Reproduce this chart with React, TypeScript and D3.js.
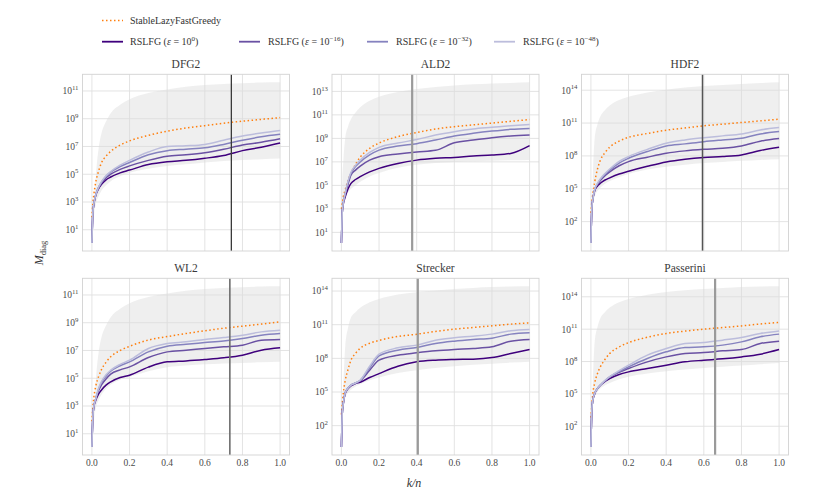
import React from "react";
import * as d3 from "d3";

// ---------- data (log10 of M_diag) ----------
const X = [0, 0.005, 0.01, 0.02, 0.035, 0.05, 0.075, 0.1, 0.15, 0.2, 0.3, 0.4, 0.5, 0.6, 0.7, 0.8, 0.9, 1.0];

const TITLES = ["DFG2", "ALD2", "HDF2", "WL2", "Strecker", "Passerini"];
const VLINE_X = [0.741, 0.376, 0.593, 0.733, 0.406, 0.66];
const VLINE_COLOR = ["#3a3a3a", "#9a9a9a", "#555555", "#6e6e6e", "#9a9a9a", "#9a9a9a"];
const VLINE_W = [1.3, 2.2, 1.5, 1.6, 2.2, 2.2];
const TICKS_ODD = [1, 3, 5, 7, 9, 11, 13];
const TICKS_THREE = [2, 5, 8, 11, 14];
const X_TICKS = [0, 0.2, 0.4, 0.6, 0.8, 1.0];

const LEGEND_EPS = ["0", "\u221216", "\u221232", "\u221248"];
const PURPLES = ["#3f007d", "#6a51a3", "#8582bf", "#bcbddc"];
const ORANGE = "#ff7f0e";

// DFG2
const DFG2_SLFG = [1.9, 2.9, 3.5, 4.4, 5.2, 5.8, 6.3, 6.65, 7.1, 7.4, 7.8, 8.1, 8.33, 8.5, 8.68, 8.82, 8.95, 9.08];
const DFG2_E0 = [0.05, 2.2, 2.8, 3.45, 3.95, 4.25, 4.6, 4.8, 5.1, 5.3, 5.7, 5.9, 6.0, 6.15, 6.35, 6.7, 6.95, 7.25];
const DFG2_E16 = [0.05, 2.2, 2.8, 3.5, 4.0, 4.35, 4.75, 5.0, 5.35, 5.6, 6.0, 6.3, 6.4, 6.55, 6.8, 7.1, 7.3, 7.55];
const DFG2_E32 = [0.05, 2.2, 2.85, 3.5, 4.05, 4.4, 4.85, 5.15, 5.55, 5.85, 6.4, 6.7, 6.8, 6.9, 7.15, 7.45, 7.7, 7.88];
const DFG2_E48 = [0.05, 2.2, 2.85, 3.5, 4.05, 4.45, 4.9, 5.2, 5.65, 6.0, 6.6, 7.0, 7.05, 7.15, 7.45, 7.75, 7.97, 8.15];
const DFG2_UP = [0.05, 0.8, 1.8, 4.6, 6.8, 7.9, 8.8, 9.4, 10.0, 10.4, 10.85, 11.1, 11.3, 11.42, 11.5, 11.55, 11.6, 11.62];
const DFG2_LO = [0.05, 0.8, 1.8, 2.8, 3.4, 3.8, 4.2, 4.5, 4.85, 5.1, 5.4, 5.6, 5.72, 5.85, 5.95, 6.02, 6.08, 6.13];

// ALD2
const ALD2_SLFG = [3.0, 3.5, 4.0, 4.6, 5.4, 6.0, 6.8, 7.4, 8.15, 8.6, 9.15, 9.5, 9.8, 10.0, 10.15, 10.3, 10.45, 10.6];
const ALD2_E0 = [0.1, 2.8, 3.4, 4.0, 4.7, 5.15, 5.5, 5.74, 6.15, 6.45, 6.87, 7.15, 7.3, 7.38, 7.5, 7.58, 7.72, 8.38];
const ALD2_E16 = [0.1, 2.8, 3.5, 4.2, 5.1, 5.85, 6.3, 6.64, 7.15, 7.44, 7.67, 7.85, 7.99, 8.63, 8.86, 9.06, 9.2, 9.28];
const ALD2_E32 = [0.1, 2.8, 3.5, 4.3, 5.3, 6.0, 6.6, 7.0, 7.6, 8.0, 8.35, 8.55, 8.86, 9.2, 9.43, 9.62, 9.77, 9.85];
const ALD2_E48 = [0.1, 2.8, 3.5, 4.3, 5.35, 6.1, 6.7, 7.15, 7.8, 8.23, 8.6, 8.9, 9.28, 9.57, 9.8, 9.94, 10.08, 10.19];
const ALD2_UP = [0.1, 5.5, 7.0, 9.0, 10.0, 10.6, 11.2, 11.65, 12.2, 12.55, 12.95, 13.2, 13.37, 13.5, 13.6, 13.67, 13.72, 13.77];
const ALD2_LO = [0.1, 2.5, 3.2, 4.0, 4.4, 4.7, 5.0, 5.3, 5.75, 6.05, 6.5, 6.75, 6.9, 7.0, 7.05, 7.1, 7.13, 7.16];

// HDF2
const HDF2_SLFG = [2.8, 3.8, 4.5, 5.6, 6.8, 7.6, 8.3, 8.8, 9.35, 9.7, 10.05, 10.35, 10.55, 10.75, 10.9, 11.05, 11.2, 11.35];
const HDF2_E0 = [0.05, 3.2, 4.0, 4.8, 5.25, 5.5, 5.8, 6.0, 6.35, 6.6, 7.05, 7.45, 7.7, 7.86, 7.94, 8.09, 8.49, 8.79];
const HDF2_E16 = [0.05, 3.2, 4.0, 4.9, 5.4, 5.75, 6.2, 6.55, 7.1, 7.48, 7.88, 8.24, 8.46, 8.6, 8.7, 8.91, 9.34, 9.58];
const HDF2_E32 = [0.05, 3.2, 4.0, 4.9, 5.45, 5.85, 6.3, 6.7, 7.35, 7.79, 8.4, 8.91, 9.1, 9.3, 9.46, 9.61, 10.0, 10.22];
const HDF2_E48 = [0.05, 3.2, 4.0, 4.9, 5.5, 5.9, 6.4, 6.8, 7.5, 7.94, 8.6, 9.16, 9.46, 9.66, 9.83, 10.0, 10.37, 10.59];
const HDF2_UP = [0.05, 3.0, 6.0, 9.6, 10.9, 11.6, 12.2, 12.6, 13.1, 13.4, 13.8, 14.05, 14.25, 14.38, 14.48, 14.57, 14.65, 14.72];
const HDF2_LO = [0.05, 2.5, 3.5, 4.3, 4.8, 5.1, 5.45, 5.7, 6.05, 6.35, 6.75, 7.0, 7.2, 7.35, 7.45, 7.55, 7.63, 7.7];

// WL2
const WL2_SLFG = [1.9, 2.9, 3.6, 4.4, 5.1, 5.6, 6.15, 6.55, 7.0, 7.3, 7.75, 8.0, 8.22, 8.42, 8.6, 8.75, 8.9, 9.06];
const WL2_E0 = [0.05, 2.2, 2.9, 3.4, 3.85, 4.14, 4.5, 4.74, 5.05, 5.22, 5.8, 6.18, 6.25, 6.35, 6.47, 6.66, 7.02, 7.19];
const WL2_E16 = [0.05, 2.2, 2.94, 3.5, 4.1, 4.5, 4.95, 5.3, 5.6, 5.82, 6.49, 6.9, 7.02, 7.14, 7.26, 7.38, 7.74, 7.79];
const WL2_E32 = [0.05, 2.2, 2.94, 3.5, 4.2, 4.65, 5.15, 5.5, 5.9, 6.18, 6.9, 7.31, 7.45, 7.57, 7.69, 7.86, 8.1, 8.22];
const WL2_E48 = [0.05, 2.2, 2.94, 3.5, 4.25, 4.74, 5.25, 5.58, 6.0, 6.3, 7.14, 7.5, 7.62, 7.79, 7.93, 8.1, 8.34, 8.46];
const WL2_UP = [0.05, 0.8, 1.8, 4.6, 6.8, 7.9, 8.8, 9.4, 10.0, 10.4, 10.85, 11.1, 11.3, 11.42, 11.5, 11.55, 11.6, 11.62];
const WL2_LO = [0.05, 0.8, 1.8, 2.8, 3.4, 3.8, 4.25, 4.55, 4.9, 5.1, 5.5, 5.8, 5.92, 6.0, 6.06, 6.1, 6.15, 6.18];

// Strecker
const STR_SLFG = [3.0, 4.0, 4.9, 6.0, 7.0, 7.8, 8.45, 8.9, 9.35, 9.6, 9.95, 10.15, 10.4, 10.6, 10.75, 10.9, 11.05, 11.17];
const STR_E0 = [0.1, 3.2, 3.96, 4.86, 5.3, 5.55, 5.75, 5.87, 6.29, 6.64, 7.3, 7.69, 7.84, 7.9, 7.93, 8.07, 8.43, 8.79];
const STR_E16 = [0.1, 3.2, 3.96, 4.9, 5.35, 5.6, 5.8, 6.0, 6.94, 7.84, 8.28, 8.49, 8.67, 8.79, 8.88, 9.03, 9.53, 9.68];
const STR_E32 = [0.1, 3.2, 3.96, 4.9, 5.35, 5.6, 5.8, 6.05, 7.15, 8.22, 8.73, 8.97, 9.32, 9.53, 9.68, 9.8, 10.16, 10.28];
const STR_E48 = [0.1, 3.2, 3.96, 4.9, 5.35, 5.6, 5.8, 6.05, 7.3, 8.37, 8.94, 9.18, 9.62, 9.83, 9.98, 10.16, 10.46, 10.58];
const STR_UP = [0.1, 3.5, 5.5, 9.0, 10.7, 11.6, 12.1, 12.5, 13.0, 13.3, 13.7, 13.9, 14.05, 14.18, 14.28, 14.35, 14.4, 14.42];
const STR_LO = [0.1, 2.5, 3.6, 4.5, 4.9, 5.2, 5.5, 5.7, 6.05, 6.3, 6.7, 6.95, 7.15, 7.3, 7.42, 7.52, 7.62, 7.7];

// Passerini
const PAS_SLFG = [2.8, 4.0, 5.0, 6.0, 6.9, 7.5, 8.2, 8.75, 9.35, 9.75, 10.25, 10.6, 10.82, 11.0, 11.15, 11.3, 11.48, 11.62];
const PAS_E0 = [0.08, 3.5, 4.4, 5.0, 5.5, 5.8, 6.15, 6.42, 6.8, 7.04, 7.35, 7.66, 7.97, 8.12, 8.25, 8.43, 8.68, 9.11];
const PAS_E16 = [0.08, 3.5, 4.4, 5.03, 5.5, 5.8, 6.2, 6.55, 7.0, 7.35, 7.97, 8.43, 8.74, 8.83, 8.99, 9.11, 9.67, 9.89];
const PAS_E32 = [0.08, 3.5, 4.4, 5.03, 5.5, 5.8, 6.22, 6.58, 7.07, 7.5, 8.28, 8.9, 9.3, 9.36, 9.52, 9.82, 10.29, 10.54];
const PAS_E48 = [0.08, 3.5, 4.4, 5.03, 5.5, 5.8, 6.25, 6.6, 7.15, 7.66, 8.59, 9.2, 9.67, 9.76, 9.98, 10.23, 10.6, 10.84];
const PAS_UP = [0.08, 3.5, 6.0, 9.8, 11.2, 12.0, 12.6, 13.0, 13.5, 13.8, 14.2, 14.45, 14.6, 14.72, 14.82, 14.9, 14.95, 14.97];
const PAS_LO = [0.08, 2.5, 3.8, 4.7, 5.2, 5.5, 5.8, 6.0, 6.35, 6.6, 6.9, 7.1, 7.25, 7.4, 7.52, 7.63, 7.75, 7.87];

type PanelData = {
  title: string; slfg: number[]; eps: number[][]; up: number[]; lo: number[];
  ticks: number[]; vx: number; vc: string; vw: number;
};

const PANELS: PanelData[] = [
  [DFG2_SLFG, [DFG2_E0, DFG2_E16, DFG2_E32, DFG2_E48], DFG2_UP, DFG2_LO, TICKS_ODD],
  [ALD2_SLFG, [ALD2_E0, ALD2_E16, ALD2_E32, ALD2_E48], ALD2_UP, ALD2_LO, TICKS_ODD],
  [HDF2_SLFG, [HDF2_E0, HDF2_E16, HDF2_E32, HDF2_E48], HDF2_UP, HDF2_LO, TICKS_THREE],
  [WL2_SLFG, [WL2_E0, WL2_E16, WL2_E32, WL2_E48], WL2_UP, WL2_LO, TICKS_ODD],
  [STR_SLFG, [STR_E0, STR_E16, STR_E32, STR_E48], STR_UP, STR_LO, TICKS_THREE],
  [PAS_SLFG, [PAS_E0, PAS_E16, PAS_E32, PAS_E48], PAS_UP, PAS_LO, TICKS_THREE],
].map((r: any, i) => ({
  title: TITLES[i], slfg: r[0], eps: r[1], up: r[2], lo: r[3], ticks: r[4],
  vx: VLINE_X[i], vc: VLINE_COLOR[i], vw: VLINE_W[i],
}));

// ---------- layout ----------
const W = 830, H = 498;
const COL_LEFT = [82.5, 332, 581.5];
const ROW_TOP = [74.3, 278.3];
const PW = 207, PH = 176.7;
const FONT = "'Liberation Serif', 'DejaVu Serif', serif";

function Panel({ p, left, top, showX }: { p: PanelData; left: number; top: number; showX: boolean }) {
  const x = d3.scaleLinear().domain([-0.05, 1.05]).range([0, PW]);
  const all = [...p.up, ...p.lo, ...p.slfg, ...p.eps.flat()];
  const lo = d3.min(all)!, hi = d3.max(all)!;
  const pad = 0.05 * (hi - lo);
  const y = d3.scaleLog().domain([Math.pow(10, lo - pad), Math.pow(10, hi + pad)]).range([PH, 0]);
  const yv = (v: number) => y(Math.pow(10, v));
  const line = d3.line<number>().x((_, i) => x(X[i])).y((v) => yv(v)).curve(d3.curveMonotoneX);
  const area = d3.area<number>()
    .x((_, i) => x(X[i]))
    .y0((_, i) => yv(p.lo[i]))
    .y1((v) => yv(v))
    .curve(d3.curveMonotoneX);
  const ticks = p.ticks.filter((t) => t >= lo - pad && t <= hi + pad);
  const clipId = "clip-" + p.title;
  return (
    <g transform={`translate(${left},${top})`}>
      <defs>
        <clipPath id={clipId}><rect x={0} y={0} width={PW} height={PH} /></clipPath>
      </defs>
      {X_TICKS.map((t) => (
        <line key={"gx" + t} x1={x(t)} x2={x(t)} y1={0} y2={PH} stroke="#e0e0e0" strokeWidth={0.9} />
      ))}
      {ticks.map((t) => (
        <line key={"gy" + t} x1={0} x2={PW} y1={yv(t)} y2={yv(t)} stroke="#e0e0e0" strokeWidth={0.9} />
      ))}
      <g clipPath={`url(#${clipId})`}>
        <path d={area(p.up)!} fill="#dcdcdc" fillOpacity={0.45} />
        <path d={line(p.slfg)!} fill="none" stroke={ORANGE} strokeWidth={1.5} strokeDasharray="1.5 2.5" />
        {p.eps.map((s, i) => (
          <path key={i} d={line(s)!} fill="none" stroke={PURPLES[i]} strokeWidth={1.5} />
        ))}
        <line x1={x(p.vx)} x2={x(p.vx)} y1={0} y2={PH} stroke={p.vc} strokeWidth={p.vw} />
      </g>
      <rect x={0} y={0} width={PW} height={PH} fill="none" stroke="#d2d2d2" strokeWidth={0.9} />
      {ticks.map((t) => (
        <text key={"ty" + t} x={-4} y={yv(t) + 3.4} textAnchor="end" fontSize={9.5} fill="#4a4a4a" fontFamily={FONT}>
          10<tspan dy={-4.2} fontSize={6.8}>{t}</tspan>
        </text>
      ))}
      {showX && X_TICKS.map((t) => (
        <text key={"tx" + t} x={x(t)} y={PH + 11.5} textAnchor="middle" fontSize={9.5} fill="#4a4a4a" fontFamily={FONT}>
          {t.toFixed(1)}
        </text>
      ))}
      <text x={PW / 2} y={-6} textAnchor="middle" fontSize={11.5} fill="#3a3a3a" fontFamily={FONT}>{p.title}</text>
    </g>
  );
}

function Legend() {
  const rowY2 = 41.7;
  const items = [
    { lx: 102, tx: 130 },
    { lx: 239, tx: 268 },
    { lx: 367, tx: 396 },
    { lx: 494, tx: 523 },
  ];
  return (
    <g fontFamily={FONT} fontSize={10} fill="#333">
      <line x1={102} x2={123} y1={20.5} y2={20.5} stroke={ORANGE} strokeWidth={1.5} strokeDasharray="1.5 2.5" />
      <text x={130} y={24}>StableLazyFastGreedy</text>
      {items.map((it, i) => (
        <g key={i}>
          <line x1={it.lx} x2={it.lx + 21} y1={rowY2} y2={rowY2} stroke={PURPLES[i]} strokeWidth={1.8} />
          <text x={it.tx} y={rowY2 + 3.5}>
            RSLFG (<tspan fontStyle="italic">ε</tspan> = 10<tspan dy={-4} fontSize={7}>{LEGEND_EPS[i]}</tspan><tspan dy={4}>)</tspan>
          </text>
        </g>
      ))}
    </g>
  );
}

export default function App() {
  return (
    <svg width={W} height={H} style={{ position: "absolute", left: 0, top: 0, background: "#fff" }}>
      <rect width={W} height={H} fill="#fff" />
      <Legend />
      {PANELS.map((p, i) => (
        <Panel key={p.title} p={p} left={COL_LEFT[i % 3]} top={ROW_TOP[Math.floor(i / 3)]} showX={i >= 3} />
      ))}
      <text transform="translate(43,253) rotate(-90)" textAnchor="middle" fontFamily={FONT} fontSize={12} fill="#333">
        <tspan fontStyle="italic">M</tspan><tspan dy={2.5} fontSize={8.5}>diag</tspan>
      </text>
      <text x={414} y={487} textAnchor="middle" fontFamily={FONT} fontSize={12} fill="#333" fontStyle="italic">k/n</text>
    </svg>
  );
}
